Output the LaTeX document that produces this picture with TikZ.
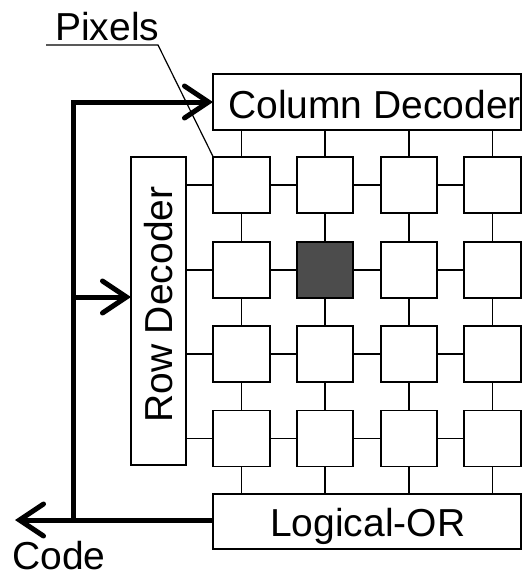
\documentclass[tikz,border=0pt]{standalone}
\usepackage{fontspec}
\setmainfont{Liberation Sans}
\usetikzlibrary{arrows.meta}
\begin{document}
\begin{tikzpicture}[x=1pt,y=-1pt,
  box/.style={draw,line width=1.8pt,inner sep=0pt,outer sep=0pt},
  pixel/.style={box,minimum width=56.5pt,minimum height=56pt},
  wire/.style={line width=1.6pt},
  bus/.style={line width=5pt,line join=miter},
  tipc/.tip={Straight Barb[length=24pt,width=32pt,line width=5pt,line cap=round]},
  lbl/.style={inner sep=0pt,font=\fontsize{39}{45}\selectfont}]
\useasboundingbox (0,0) rectangle (530,573);
% decoders
\node[box,minimum width=308pt,minimum height=56pt] (cold) at (367,102) {};
\node[box,minimum width=308pt,minimum height=55pt] (logic) at (367,521.5) {};
\node[box,minimum width=55pt,minimum height=308pt] (rowd) at (158.5,311) {};
\node[lbl,anchor=base west] (coltext) at (228,118) {Column Decoder};
\node[lbl,anchor=base west] (logtext) at (270,536) {Logical-OR};
\node[lbl,anchor=base west,rotate=90] (rowtext) at (172,423) {Row Decoder};
% pixels
\foreach \r/\y in {1/185,2/270,3/354,4/438.5}{
  \foreach \c/\x in {1/241.5,2/325,3/409,4/492.5}{
    \node[pixel] (p\r\c) at (\x,\y) {};
  }
}
\fill[black!70] (p22.north west) rectangle (p22.south east);
\draw[line width=1.8pt] (p22.north west) rectangle (p22.south east);
% wires
\foreach \r in {1,2,3,4}{
  \draw[wire] (rowd.east |- p\r1.west) -- (p\r1.west);
  \draw[wire] (p\r1.east) -- (p\r2.west);
  \draw[wire] (p\r2.east) -- (p\r3.west);
  \draw[wire] (p\r3.east) -- (p\r4.west);
}
\foreach \c in {1,2,3,4}{
  \draw[wire] (p1\c.north |- cold.south) -- (p1\c.north);
  \draw[wire] (p1\c.south) -- (p2\c.north);
  \draw[wire] (p2\c.south) -- (p3\c.north);
  \draw[wire] (p3\c.south) -- (p4\c.north);
  \draw[wire] (p4\c.south) -- (p4\c.south |- logic.north);
}
% pixels label
\node[lbl,anchor=base west] (pixlabel) at (55,40) {Pixels};
\coordinate (pl1) at (46,45);
\coordinate (pl2) at (158,45);
\draw[line width=1.2pt] (pl1) -- (pl2) -- (p11.north west);
% code bus
\coordinate (jt) at (73,102);
\coordinate (jm) at (73,297);
\coordinate (jb) at (73,520);
\coordinate (codeend) at (15,520);
\draw[bus,tipc-tipc] (cold.west) -- (jt) -- (jb) -- (codeend);
\draw[bus] (jb) -- (logic.west |- jb);
\draw[bus,-tipc] (jm) -- (rowd.west |- jm);
\node[lbl,anchor=base west] (codetext) at (12,569.5) {Code};
\end{tikzpicture}
\end{document}
